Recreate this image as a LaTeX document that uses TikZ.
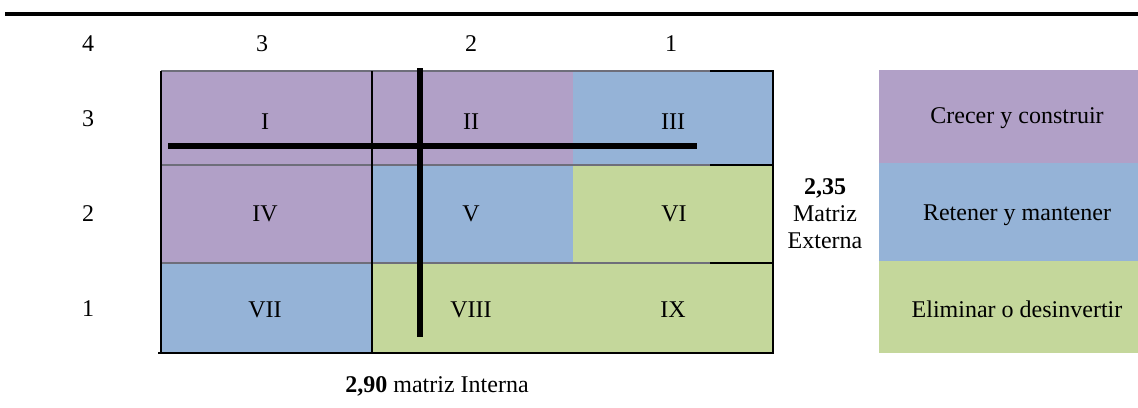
\documentclass[tikz,border=0pt]{standalone}
\usepackage{fontspec}
\setmainfont{Liberation Serif}
\definecolor{cpurple}{HTML}{B1A0C7}
\definecolor{cblue}{HTML}{95B3D7}
\definecolor{cgreen}{HTML}{C4D79B}
\definecolor{cgrid}{HTML}{6E6E7A}
\begin{document}
\begin{tikzpicture}[x=0.5pt,y=-0.5pt,
  txt/.style={font=\fontsize{12}{13.5}\selectfont, inner sep=0pt, text=black},
  cell/.style={draw=none},
  thin/.style={line width=0.8pt, draw=black},
  faint/.style={line width=0.6pt, draw=cgrid},
  thick/.style={line width=3pt, draw=black}]
\useasboundingbox (0,0) rectangle (1138,407);
% top rule
\draw[line width=1.6pt] (5,14) -- (1138,14);
% column numbers
\node[txt] (c4) at (88,44) {4};
\node[txt] (c3) at (262,44) {3};
\node[txt] (c2) at (471,44) {2};
\node[txt] (c1) at (671,44) {1};
% row numbers
\node[txt] (r3) at (88,119) {3};
\node[txt] (r2) at (88,214) {2};
\node[txt] (r1) at (88,309) {1};
% cells
\fill[cpurple] (161,71) rectangle (372,165);
\fill[cpurple] (372,71) rectangle (573,165);
\fill[cblue]   (573,71) rectangle (773,165);
\fill[cpurple] (161,165) rectangle (372,263);
\fill[cblue]   (372,165) rectangle (573,263);
\fill[cgreen]  (573,165) rectangle (773,263);
\fill[cblue]   (161,263) rectangle (372,353);
\fill[cgreen]  (372,263) rectangle (573,353);
\fill[cgreen]  (573,263) rectangle (773,353);
% grid lines
\draw[faint] (161,71) -- (710,71);
\draw[faint] (161,165) -- (710,165);
\draw[faint] (161,263) -- (710,263);
\draw[thin] (710,71) -- (773,71);
\draw[thin] (710,165) -- (773,165);
\draw[thin] (710,263) -- (773,263);
\draw[thin] (773,70) -- (773,354);
\draw[thin] (161,71) -- (161,353);
\draw[thin] (372,71) -- (372,353);
\draw[line width=1.1pt] (158,353) -- (774,353);
% cell labels
\node[txt] (l1) at (265,122) {I};
\node[txt] (l2) at (471,122) {II};
\node[txt] (l3) at (673,122) {III};
\node[txt] (l4) at (265,214) {IV};
\node[txt] (l5) at (471,214) {V};
\node[txt] (l6) at (674,214) {VI};
\node[txt] (l7) at (265,310) {VII};
\node[txt] (l8) at (471,310) {VIII};
\node[txt] (l9) at (673,310) {IX};
% thick axes
\draw[thick] (168,146) -- (697,146);
\draw[thick] (420,68) -- (420,337);
% external label
\node[txt, align=center] (ext) at (825,214) {\textbf{2,35}\\Matriz\\Externa};
% legend
\fill[cpurple] (879,70) rectangle (1138,163);
\fill[cblue]   (879,163) rectangle (1138,261);
\fill[cgreen]  (879,261) rectangle (1138,353);
\node[txt] (g1) at (1017,118) {Crecer y construir};
\node[txt] (g2) at (1017,215) {Retener y mantener};
\node[txt] (g3) at (1017,309) {Eliminar o desinvertir};
% bottom label
\node[txt] (int) at (437,386) {\textbf{2,90} matriz Interna};
\end{tikzpicture}
\end{document}
